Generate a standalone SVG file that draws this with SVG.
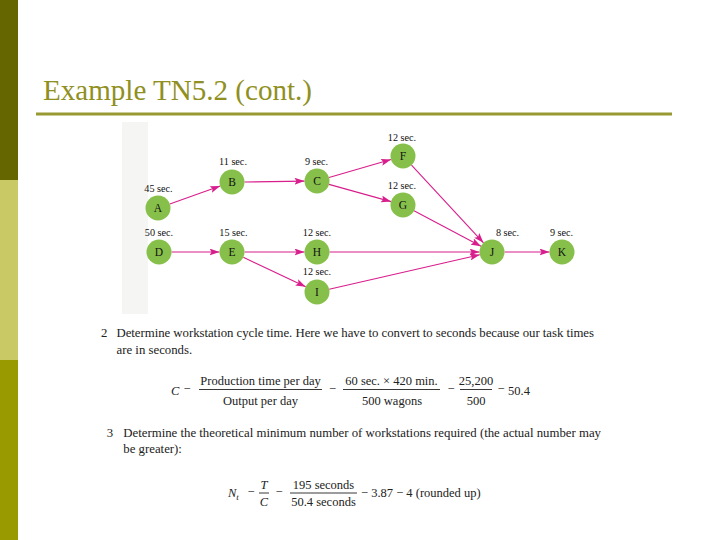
<svg xmlns="http://www.w3.org/2000/svg" width="720" height="540" viewBox="0 0 720 540">
<defs>
<marker id="arr" markerUnits="userSpaceOnUse" markerWidth="11" markerHeight="7" refX="10" refY="3.5" orient="auto">
<path d="M0,0 L10,3.5 L0,7 L2,3.5 z" fill="#D81E8C"/>
</marker>
</defs>
<style>
text{font-family:'Liberation Serif','Times New Roman','DejaVu Serif',serif;}
.n circle{fill:#86C04A;}
.n text{font-size:11.5px;fill:#111;text-anchor:middle;}
.n text.t{font-size:10.2px;}
.e{stroke:#D81E8C;stroke-width:1.1;fill:none;marker-end:url(#arr);}
.b{font-size:12.8px;fill:#222;}
.f{font-size:12.5px;fill:#222;}
.c{text-anchor:middle;}
.i{font-style:italic;}
.bar{stroke:#222;stroke-width:0.9;}
</style>
<rect width="720" height="540" fill="#FFFFFF"/>
<rect x="0" y="0" width="18" height="180" fill="#666600"/>
<rect x="0" y="180" width="18" height="180" fill="#C9C966"/>
<rect x="0" y="360" width="18" height="180" fill="#999900"/>
<text x="43" y="100" font-size="29" fill="#8F8F22" textLength="269" lengthAdjust="spacingAndGlyphs">Example TN5.2 (cont.)</text>
<rect x="36" y="112.5" width="636" height="3" fill="#999933"/>
<rect x="122" y="122" width="26" height="192" fill="#F5F5F3"/>

<g id="connectors">
<line class="e" x1="169.8" y1="203.9" x2="220.2" y2="186.1"/>
<line class="e" x1="244.5" y1="182" x2="304.5" y2="181.1"/>
<line class="e" x1="329" y1="177.5" x2="391" y2="159.5"/>
<line class="e" x1="329" y1="184.4" x2="391" y2="201.6"/>
<line class="e" x1="411.5" y1="165.2" x2="483.5" y2="242.8"/>
<line class="e" x1="414" y1="210.8" x2="481" y2="246.2"/>
<line class="e" x1="171.5" y1="252" x2="219.5" y2="252"/>
<line class="e" x1="244.5" y1="252" x2="304.5" y2="252"/>
<line class="e" x1="243.3" y1="257.3" x2="305.7" y2="286.7"/>
<line class="e" x1="329.5" y1="252" x2="479.5" y2="252"/>
<line class="e" x1="329.2" y1="289.2" x2="479.8" y2="254.8"/>
<line class="e" x1="504.5" y1="252" x2="549.5" y2="252"/>
</g>

<g id="A" class="n"><circle cx="158" cy="208" r="12.5"/><text x="158" y="212">A</text><text class="t" x="158.5" y="191.5">45 sec.</text></g>
<g id="B" class="n"><circle cx="232" cy="182" r="12.5"/><text x="232" y="186">B</text><text class="t" x="233" y="165">11 sec.</text></g>
<g id="C" class="n"><circle cx="317" cy="181" r="12.5"/><text x="317" y="185">C</text><text class="t" x="316.5" y="165">9 sec.</text></g>
<g id="F" class="n"><circle cx="403" cy="156" r="12.5"/><text x="403" y="160">F</text><text class="t" x="402" y="140.5">12 sec.</text></g>
<g id="G" class="n"><circle cx="403" cy="205" r="12.5"/><text x="403" y="209">G</text><text class="t" x="402" y="189">12 sec.</text></g>
<g id="D" class="n"><circle cx="159" cy="252" r="12.5"/><text x="159" y="256">D</text><text class="t" x="159" y="236">50 sec.</text></g>
<g id="E" class="n"><circle cx="232" cy="252" r="12.5"/><text x="232" y="256">E</text><text class="t" x="233.5" y="236">15 sec.</text></g>
<g id="H" class="n"><circle cx="317" cy="252" r="12.5"/><text x="317" y="256">H</text><text class="t" x="317" y="236">12 sec.</text></g>
<g id="I" class="n"><circle cx="317" cy="292" r="12.5"/><text x="317" y="296">I</text><text class="t" x="317" y="275">12 sec.</text></g>
<g id="J" class="n"><circle cx="492" cy="252" r="12.5"/><text x="492" y="256">J</text><text class="t" x="507.5" y="236">8 sec.</text></g>
<g id="K" class="n"><circle cx="562" cy="252" r="12.5"/><text x="562" y="256">K</text><text class="t" x="561.5" y="236">9 sec.</text></g>

<g id="step2">
<text class="b" x="101" y="337">2</text>
<text class="b" x="116.5" y="337" textLength="477.5" lengthAdjust="spacing">Determine workstation cycle time. Here we have to convert to seconds because our task times</text>
<text class="b" x="116.5" y="354">are in seconds.</text>
</g>
<g id="formula1">
<text class="f i" x="171" y="394.5">C</text>
<text class="f c" x="187" y="393">−</text>
<text class="f c" x="260.5" y="385">Production time per day</text>
<line class="bar" x1="199" y1="389.5" x2="322" y2="389.5"/>
<text class="f c" x="260.5" y="405">Output per day</text>
<text class="f c" x="332.5" y="393">−</text>
<text class="f c" x="391.5" y="385">60 sec. × 420 min.</text>
<line class="bar" x1="343" y1="389.5" x2="440" y2="389.5"/>
<text class="f c" x="392" y="405">500 wagons</text>
<text class="f c" x="451" y="393">−</text>
<text class="f c" x="476" y="385">25,200</text>
<line class="bar" x1="460" y1="389.5" x2="492" y2="389.5"/>
<text class="f c" x="476" y="405">500</text>
<text class="f c" x="501" y="393">−</text>
<text class="f" x="508" y="394.5">50.4</text>
</g>

<g id="step3">
<text class="b" x="106.7" y="437">3</text>
<text class="b" x="123.3" y="437" textLength="477.7" lengthAdjust="spacing">Determine the theoretical minimum number of workstations required (the actual number may</text>
<text class="b" x="123.3" y="453">be greater):</text>
</g>
<g id="formula2">
<text class="f i" x="228" y="497">N<tspan font-size="9" dy="2.5">t</tspan></text>
<text class="f c" x="251" y="496">−</text>
<text class="f c i" x="264" y="489">T</text>
<line class="bar" x1="259" y1="493" x2="269" y2="493"/>
<text class="f c i" x="264" y="506">C</text>
<text class="f c" x="279" y="496">−</text>
<text class="f c" x="323.5" y="489">195 seconds</text>
<line class="bar" x1="290" y1="493" x2="357" y2="493"/>
<text class="f c" x="323.5" y="506">50.4 seconds</text>
<text class="f" x="361" y="497">− 3.87 − 4 (rounded up)</text>
</g>
</svg>
